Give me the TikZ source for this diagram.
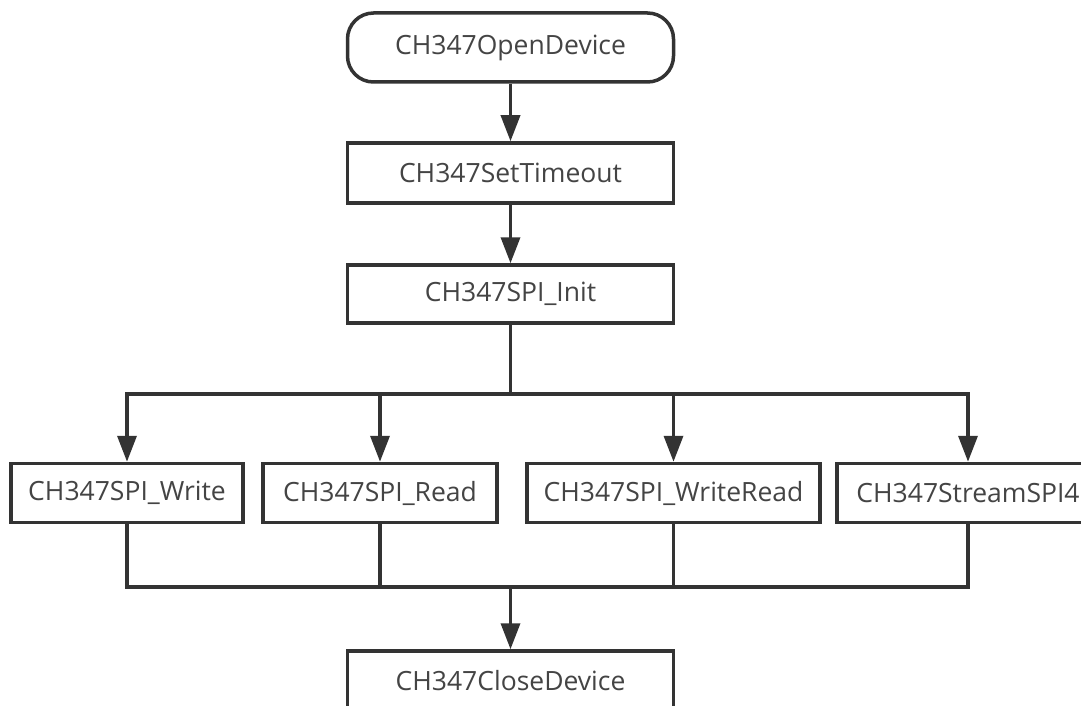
\documentclass[tikz,border=0pt]{standalone}
\usepackage{fontspec}
\setmainfont{Open Sans}
\usetikzlibrary{arrows.meta}
\definecolor{edge}{HTML}{333333}
\definecolor{label}{HTML}{444444}
\begin{document}
\begin{tikzpicture}[x=1pt, y=-1pt,
  box/.style={draw=edge, line width=3.5pt, fill=white, text=label,
    inner sep=0pt, font=\fontsize{26.5}{30}\selectfont},
  flow/.style={draw=edge, line width=3.5pt, -{Triangle[length=26pt, width=19pt]}},
  wire/.style={draw=edge, line width=3.5pt}]
\useasboundingbox (0,0) rectangle (1081,706);
\clip (0,0) rectangle (1081,706);

% main column
\node[box, rounded corners=26pt, minimum width=326pt, minimum height=69pt] (open) at (510.5,47.5) {CH347OpenDevice};
\node[box, minimum width=326pt, minimum height=60pt] (timeout) at (510.5,173) {CH347SetTimeout};
\node[box, minimum width=326pt, minimum height=58pt] (init) at (510.5,294) {CH347SPI\_Init};

% transfer functions
\node[box, minimum width=232pt, minimum height=59pt] (wr1) at (127,493) {CH347SPI\_Write};
\node[box, minimum width=234pt, minimum height=59pt] (rd) at (380,493) {CH347SPI\_Read};
\node[box, minimum width=293pt, minimum height=59pt] (wrrd) at (673.5,493) {CH347SPI\_WriteRead};
\node[box, minimum width=262pt, minimum height=59pt] (stream) at (968,493) {CH347StreamSPI4};

\node[box, minimum width=326pt, minimum height=59pt] (close) at (510.5,680.5) {CH347CloseDevice};

% fan-out and fan-in buses
\coordinate (split) at (510.5,394);
\coordinate (join) at (510.5,587);

\draw[flow] (open.south) -- (timeout.north);
\draw[flow] (timeout.south) -- (init.north);
\draw[wire] (init.south) -- (split);
\foreach \n in {wr1,rd,wrrd,stream}
  \draw[flow] (split) -| (\n.north);
\foreach \n in {wr1,rd,wrrd,stream}
  \draw[wire] (\n.south) |- (join);
\draw[flow] (join) -- (close.north);
\end{tikzpicture}
\end{document}
